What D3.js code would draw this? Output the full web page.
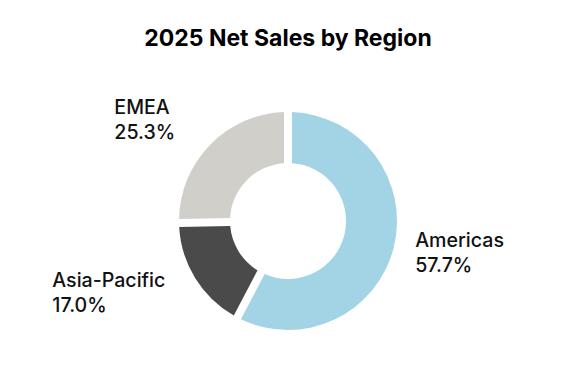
<!DOCTYPE html>
<html>
<head>
<meta charset="utf-8">
<script src="https://cdn.jsdelivr.net/npm/d3@7"></script>
<style>
  body { margin: 0; background: #fff; }
  svg { display: block; font-family: Inter, "Liberation Sans", sans-serif; }
</style>
</head>
<body>
<div id="grafico"></div>
<script>
// datos
const regiones = ["Americas", "Asia-Pacific", "EMEA"];
const porcentajes = [57.7, 17.0, 25.3];
const colores = ["#a3d4e6", "#4a4a4a", "#d0cfc9"];

const ancho = 576, alto = 384;
const centroX = 288, centroY = 221;
const radioExterior = 109, radioInterior = 58;
const hueco = 8;

const $svg = d3.select("#grafico")
    .append("svg")
    .attr("width", ancho)
    .attr("height", alto);

$svg.append("text")
    .attr("x", ancho / 2)
    .attr("y", 46)
    .attr("text-anchor", "middle")
    .attr("font-size", 23)
    .attr("font-weight", "bold")
    .attr("fill", "#000")
    .text("2025 Net Sales by Region");

const datos = regiones.map((r, i) => ({ region: r, valor: porcentajes[i], color: colores[i] }));

const pie = d3.pie()
    .sort(null)
    .value(d => d.valor);

const arco = d3.arc()
    .innerRadius(radioInterior)
    .outerRadius(radioExterior)
    .padRadius(radioExterior)
    .padAngle(hueco / radioExterior);

const g = $svg.append("g")
    .attr("transform", `translate(${centroX},${centroY})`);

const porciones = pie(datos);

g.selectAll("path")
    .data(porciones)
    .join("path")
    .attr("d", arco)
    .attr("fill", d => d.data.color);

// etiquetas: punto en el angulo medio, bloque alineado a la izquierda
const radioEtiqueta = 130;
const ajuste = {
    "Americas": { dx: 1, dy: -5 },
    "Asia-Pacific": { dx: -12, dy: -2 },
    "EMEA": { dx: -20, dy: -16 }
};

porciones.forEach(p => {
    const angulo = (p.startAngle + p.endAngle) / 2;
    const px = centroX + Math.sin(angulo) * radioEtiqueta + ajuste[p.data.region].dx;
    const py = centroY - Math.cos(angulo) * radioEtiqueta + ajuste[p.data.region].dy;
    const texto = $svg.append("text")
        .attr("font-size", 19.6)
        .attr("font-weight", 500)
        .attr("fill", "#111");
    texto.append("tspan").attr("x", 0).attr("y", py).text(p.data.region);
    texto.append("tspan").attr("x", 0).attr("y", py + 25).text(p.data.valor.toFixed(1) + "%");
    const anchoBloque = texto.node().getBBox().width;
    const x0 = Math.sin(angulo) < 0 ? px - anchoBloque : px;
    texto.selectAll("tspan").attr("x", x0);
});
</script>
</body>
</html>
